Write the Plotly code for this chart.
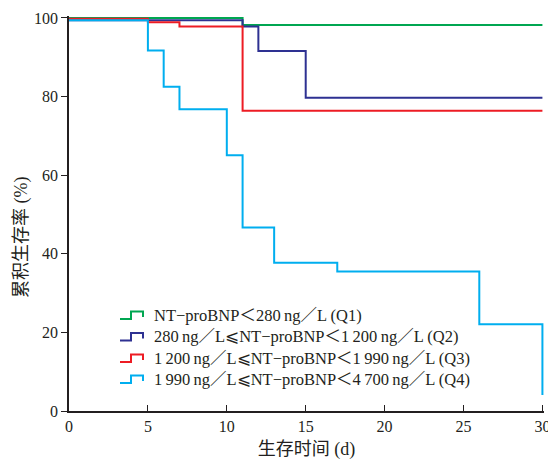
import plotly.graph_objects as go

# Survival data (days, cumulative survival %)
days_q1 = [0, 11, 30]
surv_q1 = [100.0, 98.2, 98.2]

days_q2 = [0, 11, 12, 15, 30]
surv_q2 = [99.4, 97.8, 91.6, 79.7, 79.7]

days_q3 = [0, 5, 7, 11, 30]
surv_q3 = [99.8, 98.9, 97.8, 76.4, 76.4]

days_q4 = [0, 5, 6, 7, 10, 11, 13, 17, 26, 30]
surv_q4 = [99.4, 91.7, 82.5, 76.8, 65.1, 46.7, 37.7, 35.5, 22.1, 4.1]

names = [
    "NT\u2212proBNP\uff1c280\u2009ng\uff0fL (Q1)",
    "280\u2009ng\uff0fL\u2a7dNT\u2212proBNP\uff1c1\u2009200\u2009ng\uff0fL (Q2)",
    "1\u2009200\u2009ng\uff0fL\u2a7dNT\u2212proBNP\uff1c1\u2009990\u2009ng\uff0fL (Q3)",
    "1\u2009990\u2009ng\uff0fL\u2a7dNT\u2212proBNP\uff1c4\u2009700\u2009ng\uff0fL (Q4)",
]
colors = ["#00a651", "#2e3192", "#ed1c24", "#00aeef"]

x_ticks = [0, 5, 10, 15, 20, 25, 30]
y_ticks = [0, 20, 40, 60, 80, 100]

FONT = "Liberation Serif, Times New Roman, Noto Sans CJK SC, serif"
W, H = 548, 462
ML, MR, MT, MB = 69, 4, 16, 51
PW, PH = W - ML - MR, H - MT - MB


def px_x(p):
    return (p - ML) / PW


def px_y(p):
    return (H - MB - p) / PH


fig = go.Figure()
for d, s, n, c in zip([days_q1, days_q2, days_q3, days_q4],
                      [surv_q1, surv_q2, surv_q3, surv_q4], names, colors):
    fig.add_trace(go.Scatter(x=d, y=s, mode="lines", name=n, showlegend=False,
                             line=dict(color=c, width=2, shape="hv")))

# Legend with step-shaped keys (as in the original figure)
row_y = [315, 336.5, 358, 379]
for cy, n, c in zip(row_y, names, colors):
    path = (f"M {px_x(120)},{px_y(cy + 4)} L {px_x(131)},{px_y(cy + 4)} "
            f"L {px_x(131)},{px_y(cy - 3.5)} L {px_x(143)},{px_y(cy - 3.5)} "
            f"L {px_x(143)},{px_y(cy + 2)}")
    fig.add_shape(type="path", path=path, xref="paper", yref="paper",
                  line=dict(color=c, width=2))
    fig.add_annotation(x=px_x(152), y=px_y(cy), xref="paper", yref="paper",
                       text=n, showarrow=False, xanchor="left", yanchor="middle",
                       font=dict(size=16.5, family=FONT, color="#231f20"))

# Y-axis title
fig.add_annotation(x=px_x(21), y=px_y(238), xref="paper", yref="paper",
                   text="累积生存率 (%)", textangle=-90, showarrow=False,
                   xanchor="center", yanchor="middle",
                   font=dict(size=18, family=FONT, color="#231f20"))

fig.update_layout(
    width=W, height=H,
    template=None,
    paper_bgcolor="white", plot_bgcolor="white",
    margin=dict(l=ML, r=MR, t=MT, b=MB, autoexpand=False),
    font=dict(family=FONT, size=16, color="#231f20"),
    showlegend=False,
    xaxis=dict(range=[0, 30.1], tickvals=x_ticks, ticktext=[str(v) for v in x_ticks],
               ticks="inside", ticklen=6, tickcolor="#231f20", tickwidth=1,
               showline=True, linecolor="#231f20", linewidth=1.5,
               showgrid=False, zeroline=False, automargin=False,
               ticklabeloverflow="allow",
               title=dict(text="生存时间 (d)", font=dict(size=18, family=FONT), standoff=8)),
    yaxis=dict(range=[0, 100.5], tickvals=y_ticks, ticktext=[str(v) for v in y_ticks],
               ticks="outside", ticklen=6, tickcolor="#231f20", tickwidth=1,
               showline=True, linecolor="#231f20", linewidth=1.5,
               showgrid=False, zeroline=False, automargin=False),
)

# Remove the browser's default 8px body margin so the figure fills the window.
fig.write_html("out.html",
               config={"displayModeBar": False},
               post_script="document.body.style.margin='0px';"
                           "document.body.style.overflow='hidden';")
